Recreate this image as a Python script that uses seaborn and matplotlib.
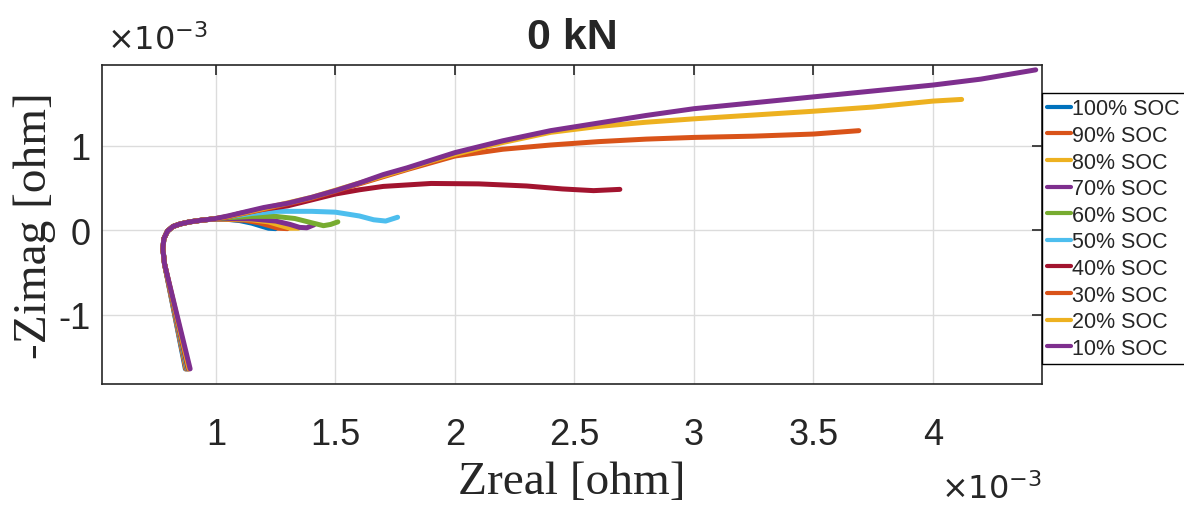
# Nyquist plot, 0 kN, ten SOC levels (MATLAB-style look)

import matplotlib
matplotlib.use("Agg")
import matplotlib.pyplot as plt
import seaborn as sns
import pandas as pd
from matplotlib.ticker import MultipleLocator, ScalarFormatter

# ==========================================================
# DATA  (values in mOhm, scaled to ohm when plotted)
# ==========================================================

soc_labels = ["100% SOC", "90% SOC", "80% SOC", "70% SOC", "60% SOC",
              "50% SOC", "40% SOC", "30% SOC", "20% SOC", "10% SOC"]

line_colors = ["#0072BD", "#D95319", "#EDB120", "#7E2F8E", "#77AC30",
               "#4DBEEE", "#A2142F", "#D95319", "#EDB120", "#7E2F8E"]

# lowest frequency point of each curve (bottom of the inductive tail)
bottom_re = [0.872, 0.874, 0.876, 0.878, 0.880, 0.882, 0.884, 0.886, 0.888, 0.892]
bottom_im = [-1.64, -1.64, -1.64, -1.64, -1.64, -1.64, -1.64, -1.64, -1.64, -1.64]

# shared hook through the real axis
hook_re = [0.785, 0.778, 0.782, 0.797, 0.820, 0.850, 0.890, 0.940, 0.990]
hook_im = [-0.40, -0.22, -0.10, -0.01, 0.045, 0.075, 0.100, 0.120, 0.135]

# per-SOC tails
tail_re = {
    "100% SOC": [1.05, 1.10, 1.15, 1.19, 1.22, 1.25],
    "90% SOC": [1.05, 1.12, 1.18, 1.23, 1.26, 1.30],
    "80% SOC": [1.05, 1.15, 1.22, 1.28, 1.31, 1.345],
    "70% SOC": [1.05, 1.15, 1.25, 1.31, 1.35, 1.38, 1.41],
    "60% SOC": [1.05, 1.15, 1.25, 1.33, 1.40, 1.45, 1.48, 1.51],
    "50% SOC": [1.05, 1.15, 1.25, 1.40, 1.50, 1.60, 1.66, 1.71, 1.76],
    "40% SOC": [1.05, 1.10, 1.20, 1.30, 1.40, 1.50, 1.60, 1.70, 1.90,
                2.10, 2.30, 2.45, 2.58, 2.69],
    "30% SOC": [1.05, 1.20, 1.40, 1.60, 1.80, 2.00, 2.20, 2.40, 2.60,
                2.80, 3.00, 3.25, 3.50, 3.69],
    "20% SOC": [1.05, 1.20, 1.40, 1.60, 1.80, 1.90, 2.00, 2.20, 2.40,
                2.60, 2.80, 3.00, 3.25, 3.50, 3.75, 4.00, 4.12],
    "10% SOC": [1.05, 1.20, 1.30, 1.40, 1.50, 1.60, 1.70, 1.80, 1.90,
                2.00, 2.20, 2.40, 2.60, 2.80, 3.00, 3.25, 3.50, 3.75,
                4.00, 4.20, 4.43],
}

tail_im = {
    "100% SOC": [0.130, 0.115, 0.085, 0.050, 0.025, 0.020],
    "90% SOC": [0.130, 0.120, 0.090, 0.050, 0.025, 0.020],
    "80% SOC": [0.135, 0.125, 0.100, 0.050, 0.025, 0.025],
    "70% SOC": [0.140, 0.135, 0.110, 0.070, 0.035, 0.030, 0.065],
    "60% SOC": [0.150, 0.165, 0.165, 0.140, 0.090, 0.055, 0.070, 0.100],
    "50% SOC": [0.160, 0.200, 0.225, 0.225, 0.215, 0.170, 0.125, 0.110, 0.155],
    "40% SOC": [0.160, 0.200, 0.250, 0.290, 0.360, 0.430, 0.480, 0.520, 0.555,
                0.550, 0.525, 0.490, 0.470, 0.485],
    "30% SOC": [0.160, 0.250, 0.380, 0.550, 0.720, 0.880, 0.960, 1.010, 1.050,
                1.080, 1.100, 1.115, 1.140, 1.180],
    "20% SOC": [0.165, 0.260, 0.390, 0.560, 0.730, 0.820, 0.900, 1.040, 1.160,
                1.230, 1.280, 1.320, 1.365, 1.410, 1.460, 1.530, 1.550],
    "10% SOC": [0.170, 0.270, 0.320, 0.390, 0.470, 0.560, 0.660, 0.740, 0.830,
                0.920, 1.060, 1.180, 1.270, 1.360, 1.440, 1.510, 1.580, 1.650,
                1.720, 1.790, 1.900],
}

# ==========================================================
# BUILD TABLE
# ==========================================================

rows = []
for i, soc in enumerate(soc_labels):
    xs = [bottom_re[i]] + hook_re + tail_re[soc]
    ys = [bottom_im[i]] + hook_im + tail_im[soc]
    for k, (xr, yi) in enumerate(zip(xs, ys)):
        rows.append({"soc": soc, "step": k, "zreal": xr * 1e-3, "zimag": yi * 1e-3})
df = pd.DataFrame(rows)


class TrimFormatter(ScalarFormatter):
    # MATLAB style tick labels: 1, 1.5, 2 ... (no trailing zeros)
    def _set_format(self):
        self.format = "%g"


# ==========================================================
# PLOT
# ==========================================================

sns.set_theme(style="white")
plt.rcParams["font.family"] = ["Liberation Sans", "DejaVu Sans"]
plt.rcParams["axes.unicode_minus"] = False

fig = plt.figure(figsize=(11.84, 5.06), dpi=100)
ax = fig.add_axes([0.0861, 0.239, 0.880 - 0.0861, 0.870 - 0.239])

for soc, col in zip(soc_labels, line_colors):
    sns.lineplot(
        data=df[df["soc"] == soc],
        x="zreal",
        y="zimag",
        sort=False,
        estimator=None,
        color=col,
        linewidth=3.6,
        label=soc,
        ax=ax,
        legend=False,
    )

ax.set_xlim(0.523e-3, 4.456e-3)
ax.set_ylim(-1.82e-3, 1.96e-3)
ax.xaxis.set_major_locator(MultipleLocator(0.5e-3))
ax.yaxis.set_major_locator(MultipleLocator(1e-3))
for axis in (ax.xaxis, ax.yaxis):
    fmt = TrimFormatter()
    fmt.set_scientific(True)
    fmt.set_powerlimits((0, 0))
    axis.set_major_formatter(fmt)
    axis.get_offset_text().set_visible(False)

# exponent labels, placed like MATLAB does
fig.text(107 / 1184, 1 - 50 / 506, r"$\times10^{-3}$", fontsize=23,
         color="#262626", ha="left", va="baseline")
fig.text(1042 / 1184, 1 - 499 / 506, r"$\times10^{-3}$", fontsize=23,
         color="#262626", ha="right", va="baseline")

ax.grid(True, color="#dcdcdc", linewidth=1.0)
ax.set_axisbelow(True)

for sp in ax.spines.values():
    sp.set_color("#262626")
    sp.set_linewidth(1.2)

ax.tick_params(axis="both", which="major", direction="in", length=7,
               width=1.2, colors="#262626", labelsize=26,
               top=True, right=True)
ax.tick_params(axis="x", pad=24)
ax.tick_params(axis="y", pad=8)

ax.set_title("0 kN", fontsize=31, fontweight="bold", pad=12)
ax.set_xlabel("Zreal [ohm]", family=["Liberation Serif", "DejaVu Serif"],
              fontsize=34, labelpad=6)
ax.set_ylabel("-Zimag [ohm]", family=["Liberation Serif", "DejaVu Serif"],
              fontsize=34, labelpad=2)

handles, labels = ax.get_legend_handles_labels()
leg = ax.legend(
    handles, labels,
    loc="upper left",
    bbox_to_anchor=(1042 / 1184, 1 - 94 / 506),
    bbox_transform=fig.transFigure,
    borderaxespad=0,
    fontsize=15.5,
    handlelength=1.1,
    handletextpad=0.05,
    borderpad=0.25,
    labelspacing=0.26,
    fancybox=False,
    framealpha=1,
    edgecolor="black",
)
leg.get_frame().set_linewidth(1.0)
for ln in leg.get_lines():
    ln.set_linewidth(3.0)

plt.savefig("out.png", dpi=100)
